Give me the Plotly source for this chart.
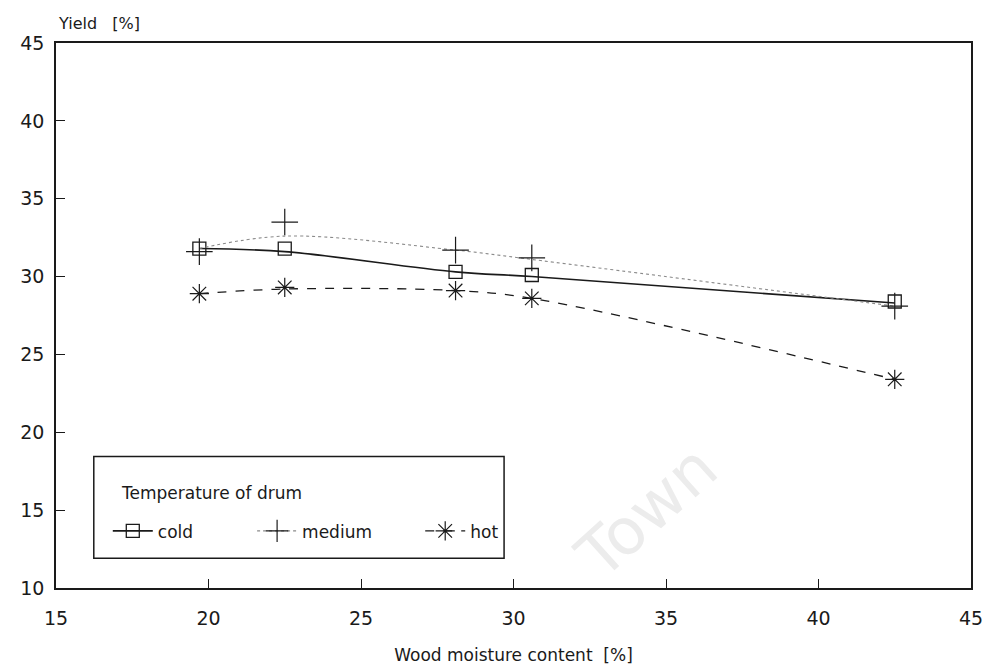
import plotly.graph_objects as go

# ---- data ----
moisture = [19.7, 22.5, 28.1, 30.6, 42.5]

cold_points = [31.8, 31.8, 30.3, 30.1, 28.4]
medium_points = [31.6, 33.5, 31.7, 31.2, 28.1]
hot_points = [28.9, 29.3, 29.1, 28.6, 23.4]

# smoothed curves as drawn in the reference (read at the same moisture values)
cold_curve = [31.8, 31.6, 30.3, 30.0, 28.3]
medium_curve = [31.8, 32.6, 31.7, 31.1, 28.1]
hot_curve = [28.9, 29.2, 29.1, 28.6, 23.4]

series_names = ["cold", "medium", "hot"]
legend_labels = {"cold": "cold" + "\u00a0" * 10,
                 "medium": "medium" + "\u00a0" * 8,
                 "hot": "hot"}
x_ticks = [15, 20, 25, 30, 35, 40, 45]
y_ticks = [10, 15, 20, 25, 30, 35, 40, 45]

FONT = "DejaVu Sans"
INK = "#1a1a1a"

styles = {
    "cold": dict(line=dict(color=INK, width=1.6, dash="solid"),
                 marker=dict(symbol="square-open", size=13, color=INK, line=dict(width=1.3, color=INK))),
    "medium": dict(line=dict(color="#8a8a8a", width=1.1, dash="dot"),
                   marker=dict(symbol="cross-thin-open", size=19, color=INK, line=dict(width=1.2, color=INK))),
    "hot": dict(line=dict(color=INK, width=1.3, dash="dash"),
                marker=dict(symbol="asterisk-open", size=16, color=INK, line=dict(width=1.2, color=INK))),
}

curves = {"cold": cold_curve, "medium": medium_curve, "hot": hot_curve}
points = {"cold": cold_points, "medium": medium_points, "hot": hot_points}

fig = go.Figure()

for name in series_names:
    st = styles[name]
    fig.add_trace(go.Scatter(x=moisture, y=curves[name], mode="lines",
                             line=dict(shape="spline", smoothing=1.0, **st["line"]),
                             showlegend=False, hoverinfo="skip"))
    fig.add_trace(go.Scatter(x=moisture, y=points[name], mode="markers",
                             marker=st["marker"], showlegend=False))

# legend entries (line + marker)
for name in series_names:
    st = styles[name]
    fig.add_trace(go.Scatter(x=[None], y=[None], mode="lines+markers",
                             name=legend_labels[name],
                             line=st["line"], marker=st["marker"]))

axis_common = dict(
    showgrid=False, zeroline=False, showline=True, linecolor=INK, linewidth=1.6,
    mirror=True, ticks="inside", ticklen=9, tickwidth=1.2, tickcolor=INK,
    tickfont=dict(family=FONT, size=19, color=INK),
)

fig.update_xaxes(range=[15, 45], tickvals=x_ticks, ticklabelstandoff=12,
                 title=dict(text="Wood moisture content  [%]",
                            font=dict(family=FONT, size=17, color=INK), standoff=22),
                 **axis_common)
fig.update_yaxes(range=[10, 45], tickvals=y_ticks, ticklabelstandoff=6, **axis_common)

fig.update_layout(
    width=996, height=671,
    margin=dict(l=46, r=33, t=35, b=91),
    paper_bgcolor="white", plot_bgcolor="white",
    font=dict(family=FONT, color=INK),
    legend=dict(
        orientation="h", x=0.0566, y=0.137, xanchor="left", yanchor="top",
        borderwidth=0, bgcolor="rgba(0,0,0,0)",
        font=dict(family=FONT, size=17, color=INK),
        itemwidth=40, tracegroupgap=0,
    ),
    shapes=[
        dict(type="rect", xref="paper", yref="paper",
             x0=0.0413, x1=0.4897, y0=0.0548, y1=0.2413,
             line=dict(color=INK, width=1.5), fillcolor="rgba(0,0,0,0)", layer="above"),
    ],
    annotations=[
        dict(text="Yield   [%]", x=0, y=1, xref="paper", yref="paper",
             xanchor="left", yanchor="bottom", yshift=8, showarrow=False,
             font=dict(family=FONT, size=16, color=INK)),
        dict(text="Temperature of drum", x=0.0686, y=0.1737, xref="paper", yref="paper",
             xanchor="left", yanchor="middle", showarrow=False,
             font=dict(family=FONT, size=17, color=INK)),
        dict(text="Town", x=0.645, y=0.14, xref="paper", yref="paper",
             xanchor="center", yanchor="middle",
             showarrow=False, textangle=-42,
             font=dict(family=FONT, size=64, color="#ececec")),
    ],
)

fig.write_html("out.html")
